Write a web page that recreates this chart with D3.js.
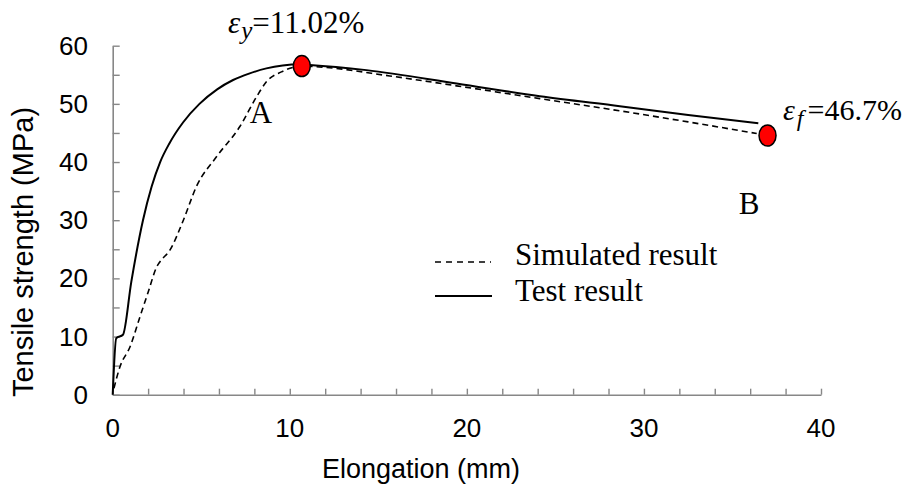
<!DOCTYPE html>
<html>
<head>
<meta charset="utf-8">
<script src="https://cdn.jsdelivr.net/npm/d3@7"></script>
<style>
  html, body { margin: 0; padding: 0; background: #fff; }
  svg { display: block; }
</style>
</head>
<body>
<svg id="chart" width="910" height="492"></svg>
<script>
// ---- data ----
const testX = [0, 0.2, 0.58, 1.05, 1.71, 2.2, 2.68, 3.2, 3.97, 4.9, 5.9, 6.8, 7.7, 8.68, 9.6, 10.56, 11.13, 14.33, 19.42, 24.12, 28.64, 32.5, 36.46];
const testY = [0, 9.7, 10.3, 19.4, 30.0, 35.8, 40.0, 43.2, 46.8, 50.0, 52.5, 54.1, 55.2, 56.1, 56.6, 56.8, 56.7, 55.8, 53.5, 51.3, 49.6, 48.1, 46.65];
const simX = [0.07, 0.41, 0.98, 1.54, 2.01, 2.49, 2.68, 3.24, 3.99, 4.73, 5.86, 7.18, 8.12, 8.68, 9.53, 10.38, 10.68, 11.88, 15.65, 19.42, 24.12, 28.64, 32.5, 36.37];
const simY = [1.1, 4.8, 8.25, 13.4, 17.7, 22.0, 22.9, 24.9, 30.0, 35.8, 40.9, 46.1, 51.2, 53.8, 55.5, 56.4, 56.5, 56.3, 54.8, 53.1, 50.9, 48.8, 46.9, 44.9];
const markerX = [10.68, 36.98];
const markerY = [56.5, 44.56];
const xTickLabels = [0, 10, 20, 30, 40];
const yTickLabels = [0, 10, 20, 30, 40, 50, 60];
const xMinorTicks = d3.range(0, 41, 2);
const yMinorTicks = d3.range(0, 61, 5);
const seriesNames = ["Simulated result", "Test result"];

// ---- layout ----
const svg = d3.select("#chart");
const x = d3.scaleLinear().domain([0, 40]).range([112.7, 821]);
const y = d3.scaleLinear().domain([0, 60]).range([394.7, 45.7]);
const axisColor = "#878787";
const sans = "'Liberation Sans', Arial, sans-serif";
const serif = "'Liberation Serif', 'Times New Roman', serif";

// axes (ticks pointing inward)
const xAxis = d3.axisBottom(x).tickValues(xMinorTicks).tickSizeInner(-6).tickSizeOuter(0).tickFormat("");
const gx = svg.append("g").attr("transform", `translate(0,${y(0)})`).call(xAxis);
const yAxis = d3.axisLeft(y).tickValues(yMinorTicks).tickSizeInner(-7).tickSizeOuter(0).tickFormat("");
const gy = svg.append("g").attr("transform", `translate(${x(0)},0)`).call(yAxis);
[gx, gy].forEach(g => {
  g.selectAll("path.domain").attr("stroke", axisColor).attr("stroke-width", 1.6);
  g.selectAll(".tick line").attr("stroke", axisColor).attr("stroke-width", 1.4);
});

// tick labels
svg.append("g").selectAll("text").data(xTickLabels).join("text")
  .attr("x", d => x(d)).attr("y", 437)
  .attr("text-anchor", "middle")
  .attr("font-family", sans).attr("font-size", 26).attr("fill", "#000")
  .text(d => d);
svg.append("g").selectAll("text").data(yTickLabels).join("text")
  .attr("x", 88).attr("y", d => y(d) + 9)
  .attr("text-anchor", "end")
  .attr("font-family", sans).attr("font-size", 26).attr("fill", "#000")
  .text(d => d);

// axis titles
svg.append("text")
  .attr("x", 421).attr("y", 478)
  .attr("text-anchor", "middle")
  .attr("font-family", sans).attr("font-size", 27)
  .text("Elongation (mm)");
svg.append("text")
  .attr("transform", "translate(33,252) rotate(-90)")
  .attr("text-anchor", "middle")
  .attr("font-family", sans).attr("font-size", 29)
  .text("Tensile strength (MPa)");

// curves
const line = d3.line().x(d => x(d[0])).y(d => y(d[1])).curve(d3.curveMonotoneX);
const simData = simX.map((v, i) => [v, simY[i]]);
const testData = testX.map((v, i) => [v, testY[i]]);
svg.append("path").datum(simData).attr("d", line)
  .attr("fill", "none").attr("stroke", "#000").attr("stroke-width", 1.6)
  .attr("stroke-dasharray", "6,4");
svg.append("path").datum(testData).attr("d", line)
  .attr("fill", "none").attr("stroke", "#000").attr("stroke-width", 2);

// markers
svg.append("g").selectAll("ellipse").data(markerX.map((v, i) => [v, markerY[i]])).join("ellipse")
  .attr("cx", d => x(d[0])).attr("cy", d => y(d[1]))
  .attr("rx", 8.5).attr("ry", 10.5)
  .attr("fill", "#ff0000").attr("stroke", "#000").attr("stroke-width", 1.5);

// annotations
const ey = svg.append("text").attr("x", 228).attr("y", 33)
  .attr("font-family", serif).attr("font-size", 31);
ey.append("tspan").attr("font-style", "italic").text("ε");
ey.append("tspan").attr("font-style", "italic").attr("font-size", 25).attr("dx", 1).attr("dy", 6).text("y");
ey.append("tspan").attr("dy", -6).text("=11.02%");

const ef = svg.append("text").attr("x", 783).attr("y", 120)
  .attr("font-family", serif).attr("font-size", 30);
ef.append("tspan").attr("font-style", "italic").text("ε");
ef.append("tspan").attr("font-style", "italic").attr("font-size", 24).attr("dx", 2).attr("dy", 6).text("f");
ef.append("tspan").attr("dx", 4).attr("dy", -6).text("=46.7%");

svg.append("text").attr("x", 261).attr("y", 123).attr("text-anchor", "middle")
  .attr("font-family", serif).attr("font-size", 31).text("A");
svg.append("text").attr("x", 749).attr("y", 214).attr("text-anchor", "middle")
  .attr("font-family", serif).attr("font-size", 31).text("B");

// legend
const legY = [262, 296];
svg.append("line").attr("x1", 435).attr("x2", 491).attr("y1", legY[0]).attr("y2", legY[0])
  .attr("stroke", "#000").attr("stroke-width", 1.5).attr("stroke-dasharray", "6,5");
svg.append("line").attr("x1", 435).attr("x2", 492).attr("y1", legY[1]).attr("y2", legY[1])
  .attr("stroke", "#000").attr("stroke-width", 1.8);
svg.append("g").selectAll("text").data(seriesNames).join("text")
  .attr("x", 515).attr("y", (d, i) => legY[i] + 3 + (i === 0 ? 0 : 2))
  .attr("font-family", serif).attr("font-size", 31)
  .text(d => d);
</script>
</body>
</html>
